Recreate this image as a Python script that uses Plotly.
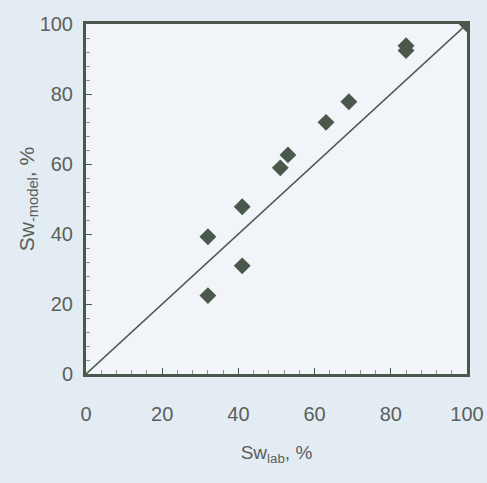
import plotly.graph_objects as go

# Data
sw_lab = [32, 32, 41, 41, 51, 53, 63, 69, 84, 84, 100]
sw_model = [39.2, 22.4, 47.8, 30.9, 58.9, 62.6, 71.9, 77.8, 93.8, 92.4, 100]
line_x = [0, 100]
line_y = [0, 100]
tick_vals = [0, 20, 40, 60, 80, 100]
tick_text = ["0", "20", "40", "60", "80", "100"]

ink = "#4a584c"
txt = "#5a5f5c"
font_fam = "Liberation Sans, Arial, sans-serif"

fig = go.Figure()
fig.add_trace(go.Scatter(x=line_x, y=line_y, mode="lines",
                         line=dict(color=ink, width=1.6), showlegend=False, hoverinfo="skip"))
fig.add_trace(go.Scatter(x=sw_lab, y=sw_model, mode="markers",
                         marker=dict(symbol="diamond", size=13, color=ink, line=dict(width=0)),
                         showlegend=False))

axis_common = dict(
    range=[0, 100], tickvals=tick_vals, ticktext=tick_text,
    showgrid=False, zeroline=False,
    showline=True, mirror=True, linecolor=ink, linewidth=3,
    ticks="inside", ticklen=6, tickwidth=1.2, tickcolor=ink,
    minor=dict(dtick=4, ticks="inside", ticklen=4, tickwidth=1, tickcolor="#8a948c"),
    tickfont=dict(family=font_fam, size=20, color=txt),
    fixedrange=True, automargin=False,
)

fig.update_xaxes(**axis_common, ticklabelstandoff=20,
                 title=dict(text="Sw<sub>lab</sub>, %", standoff=22,
                            font=dict(family=font_fam, size=19, color=txt)))
fig.update_yaxes(**axis_common, ticklabelstandoff=6,
                 title=dict(text="Sw<sub>-model</sub>, %", standoff=0,
                            font=dict(family=font_fam, size=21, color=txt)))

fig.update_layout(
    width=487, height=483,
    margin=dict(l=86, r=20, t=24, b=109),
    paper_bgcolor="#e4ecf3",
    plot_bgcolor="#f1f5f9",
    showlegend=False,
)

fig.write_html("out.html")
